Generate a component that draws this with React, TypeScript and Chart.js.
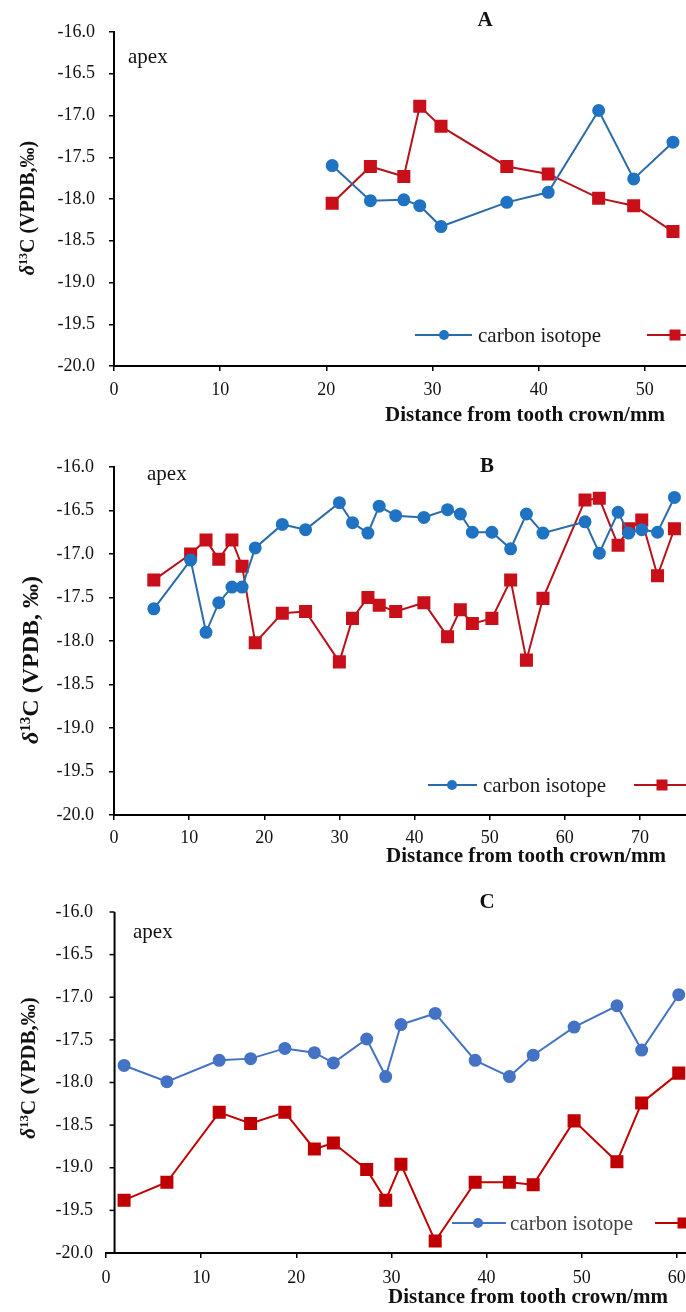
import React, { useEffect, useRef } from "react";
import { Chart, registerables } from "chart.js";

Chart.register(...registerables);

const FONT = '"Liberation Serif", "Times New Roman", serif';

// ---------- DATA ----------
// Panel A
const distA = [20.55, 24.15, 27.3, 28.8, 30.8, 37.0, 40.9, 45.65, 48.95, 52.65];
const carbonA = [-17.6, -18.02, -18.01, -18.08, -18.33, -18.04, -17.92, -16.94, -17.76, -17.32];
const otherA = [-18.05, -17.61, -17.73, -16.89, -17.13, -17.61, -17.7, -17.99, -18.08, -18.39];

// Panel B
const distB = [5.3, 10.2, 12.25, 13.95, 15.7, 17.05, 18.8, 22.4, 25.5, 30.0, 31.75, 33.8, 35.3, 37.5, 41.25, 44.4, 46.1, 47.7, 50.3, 52.8, 54.9, 57.1, 62.7, 64.6, 67.1, 68.5, 70.25, 72.35, 74.6];
const carbonB = [-17.63, -17.07, -17.9, -17.56, -17.38, -17.38, -16.93, -16.66, -16.72, -16.41, -16.64, -16.76, -16.45, -16.56, -16.58, -16.49, -16.54, -16.75, -16.75, -16.94, -16.54, -16.76, -16.63, -16.99, -16.52, -16.76, -16.72, -16.75, -16.35];
const otherB = [-17.3, -17.0, -16.84, -17.06, -16.84, -17.14, -18.02, -17.68, -17.66, -18.24, -17.74, -17.5, -17.59, -17.66, -17.56, -17.95, -17.64, -17.8, -17.74, -17.3, -18.22, -17.51, -16.38, -16.36, -16.9, -16.71, -16.61, -17.25, -16.71];

// Panel C
const distC = [1.9, 6.4, 11.9, 15.2, 18.8, 21.9, 23.9, 27.4, 29.4, 31.0, 34.6, 38.8, 42.4, 44.9, 49.2, 53.7, 56.3, 60.2];
const carbonC = [-17.8, -17.99, -17.74, -17.72, -17.6, -17.65, -17.77, -17.49, -17.93, -17.32, -17.19, -17.74, -17.93, -17.68, -17.35, -17.1, -17.62, -16.97];
const otherC = [-19.38, -19.17, -18.35, -18.48, -18.35, -18.78, -18.71, -19.02, -19.38, -18.96, -19.86, -19.17, -19.17, -19.2, -18.45, -18.93, -18.24, -17.89];

const seriesNames = ["carbon isotope", "oxygen isotope"];
const panelLetters = ["A", "B", "C"];
const yMin = -20;
const yMax = -16;
const yStep = 0.5;
const xStep = 10;

// ---------- STYLE / LAYOUT ----------
type Panel = {
  letter: string;
  xs: number[];
  c: number[];
  o: number[];
  top: number;
  height: number;
  width: number;
  xMax: number;
  padTop: number;
  xAxisH: number;
  yAxisW: number;
  xTickPad: number;
  yTickPad: number;
  yAxisAt: number | null;
  title: [number, number];
  apex: [number, number];
  xTitle: [number, number];
  yTitle: { x: number; y: number; size: number; rest: string };
  legend: { y: number; items: { l0: number; l1: number; m: number; t: number }[]; color: string };
  blueLine: string;
  blueFill: string;
  redLine: string;
  redFill: string;
};

const panels: Panel[] = [
  {
    letter: panelLetters[0], xs: distA, c: carbonA, o: otherA,
    top: 0, height: 440, width: 781, xMax: 60, padTop: 32, xAxisH: 74, yAxisW: 114,
    xTickPad: 8, yTickPad: 14, yAxisAt: null,
    title: [485, 21], apex: [128, 63], xTitle: [525, 416],
    yTitle: { x: 27, y: 208, size: 20, rest: "C (VPDB,\u2030)" },
    legend: { y: 335, color: "#1a1a1a", items: [{ l0: 415, l1: 472, m: 444, t: 478 }, { l0: 647, l1: 703, m: 675, t: 709 }] },
    blueLine: "#2b6ca8", blueFill: "#1f73c2", redLine: "#b5121b", redFill: "#c80f1a",
  },
  {
    letter: panelLetters[1], xs: distB, c: carbonB, o: otherB,
    top: 440, height: 440, width: 745, xMax: 80, padTop: 27, xAxisH: 65, yAxisW: 114,
    xTickPad: 7, yTickPad: 15, yAxisAt: null,
    title: [487, 27], apex: [147, 40], xTitle: [526, 417],
    yTitle: { x: 30, y: 220, size: 24, rest: "C (VPDB, \u2030)" },
    legend: { y: 345, color: "#1a1a1a", items: [{ l0: 428, l1: 477, m: 452, t: 483 }, { l0: 634, l1: 690, m: 662, t: 696 }] },
    blueLine: "#2b6ca8", blueFill: "#1f73c2", redLine: "#b5121b", redFill: "#c80f1a",
  },
  {
    letter: panelLetters[2], xs: distC, c: carbonC, o: otherC,
    top: 880, height: 432, width: 802, xMax: 70, padTop: 32, xAxisH: 59, yAxisW: 106,
    xTickPad: 9, yTickPad: 13, yAxisAt: 0.9,
    title: [487, 23], apex: [133, 58], xTitle: [528, 418],
    yTitle: { x: 28, y: 188, size: 21, rest: "C (VPDB,\u2030)" },
    legend: { y: 343, color: "#444444", items: [{ l0: 452, l1: 506, m: 478, t: 510 }, { l0: 655, l1: 711, m: 683, t: 717 }] },
    blueLine: "#4472c4", blueFill: "#4472c4", redLine: "#c00000", redFill: "#c00000",
  },
];

function drawYTitle(ctx: CanvasRenderingContext2D, p: Panel) {
  const { x, y, size, rest } = p.yTitle;
  const segs = [
    { text: "\u03b4", font: `italic bold ${size}px ${FONT}`, dy: 0 },
    { text: "13", font: `bold ${Math.round(size * 0.62)}px ${FONT}`, dy: -size * 0.36 },
    { text: rest, font: `bold ${size}px ${FONT}`, dy: 0 },
  ];
  ctx.save();
  ctx.translate(x, y);
  ctx.rotate(-Math.PI / 2);
  let total = 0;
  for (const s of segs) {
    ctx.font = s.font;
    total += ctx.measureText(s.text).width;
  }
  let cx = -total / 2;
  ctx.textAlign = "left";
  ctx.textBaseline = "alphabetic";
  ctx.fillStyle = "#111";
  const base = size * 0.34;
  for (const s of segs) {
    ctx.font = s.font;
    ctx.fillText(s.text, cx, base + s.dy);
    cx += ctx.measureText(s.text).width;
  }
  ctx.restore();
}

const decorPlugin = {
  id: "decor",
  afterDraw(chart: any, _args: any, opts: any) {
    const p: Panel = opts.panel;
    const ctx: CanvasRenderingContext2D = chart.ctx;
    const xs = chart.scales.x;
    const ys = chart.scales.y;
    const area = chart.chartArea;
    ctx.save();

    // custom vertical axis (panel C crosses at a non-zero value)
    if (p.yAxisAt !== null) {
      const ax = xs.getPixelForValue(p.yAxisAt);
      ctx.strokeStyle = "#000";
      ctx.lineWidth = 2;
      ctx.beginPath();
      ctx.moveTo(ax, area.top);
      ctx.lineTo(ax, area.bottom);
      ctx.stroke();
      ctx.lineWidth = 1.5;
      for (let v = yMin; v <= yMax + 1e-9; v += yStep) {
        const py = ys.getPixelForValue(v);
        ctx.beginPath();
        ctx.moveTo(ax - 5, py);
        ctx.lineTo(ax, py);
        ctx.stroke();
      }
    }

    ctx.fillStyle = "#111";
    // panel letter
    ctx.font = `bold 21px ${FONT}`;
    ctx.textAlign = "center";
    ctx.textBaseline = "middle";
    ctx.fillText(p.letter, p.title[0], p.title[1]);

    // apex
    ctx.font = `21px ${FONT}`;
    ctx.textAlign = "left";
    ctx.textBaseline = "alphabetic";
    ctx.fillText("apex", p.apex[0], p.apex[1]);

    // x title
    ctx.font = `bold 21px ${FONT}`;
    ctx.textAlign = "center";
    ctx.textBaseline = "middle";
    ctx.fillText("Distance from tooth crown/mm", p.xTitle[0], p.xTitle[1]);

    // y title
    drawYTitle(ctx, p);

    // legend
    const lg = p.legend;
    p.legend.items.forEach((it, i) => {
      const line = i === 0 ? p.blueLine : p.redLine;
      const fill = i === 0 ? p.blueFill : p.redFill;
      ctx.strokeStyle = line;
      ctx.lineWidth = 2;
      ctx.beginPath();
      ctx.moveTo(it.l0, lg.y);
      ctx.lineTo(it.l1, lg.y);
      ctx.stroke();
      ctx.fillStyle = fill;
      if (i === 0) {
        ctx.beginPath();
        ctx.arc(it.m, lg.y, 5, 0, Math.PI * 2);
        ctx.fill();
      } else {
        ctx.fillRect(it.m - 5.5, lg.y - 5.5, 11, 11);
      }
      ctx.fillStyle = lg.color;
      ctx.font = `21px ${FONT}`;
      ctx.textAlign = "left";
      ctx.textBaseline = "middle";
      ctx.fillText(seriesNames[i], it.t, lg.y + 1);
    });
    ctx.restore();
  },
};

function PanelChart({ p }: { p: Panel }) {
  const ref = useRef<HTMLCanvasElement>(null);
  useEffect(() => {
    if (!ref.current) return;
    const chart = new Chart(ref.current, {
      type: "scatter",
      data: {
        datasets: [
          {
            label: seriesNames[0],
            data: p.xs.map((x, i) => ({ x, y: p.c[i] })),
            showLine: true,
            borderColor: p.blueLine,
            backgroundColor: p.blueFill,
            pointBackgroundColor: p.blueFill,
            pointBorderColor: p.blueFill,
            pointStyle: "circle",
            pointRadius: 5.5,
            borderWidth: 2,
            tension: 0,
          },
          {
            label: seriesNames[1],
            data: p.xs.map((x, i) => ({ x, y: p.o[i] })),
            showLine: true,
            borderColor: p.redLine,
            backgroundColor: p.redFill,
            pointBackgroundColor: p.redFill,
            pointBorderColor: p.redFill,
            pointStyle: "rect",
            pointRadius: 7.8,
            borderWidth: 2,
            tension: 0,
          },
        ],
      },
      options: {
        responsive: false,
        animation: false,
        devicePixelRatio: 1,
        layout: { padding: { top: p.padTop, right: 30, bottom: 0, left: 0 } },
        plugins: {
          legend: { display: false },
          tooltip: { enabled: false },
          decor: { panel: p },
        } as any,
        scales: {
          x: {
            type: "linear",
            min: 0,
            max: p.xMax,
            afterFit: (s: any) => { s.height = p.xAxisH; },
            ticks: {
              stepSize: xStep,
              padding: p.xTickPad,
              color: "#111",
              font: { family: FONT, size: 18 },
              maxRotation: 0,
              callback: (v: any) => (Number(v) % xStep === 0 ? String(v) : ""),
            },
            grid: { drawOnChartArea: false, drawTicks: true, tickLength: 5, color: "#000", lineWidth: 1.5 },
            border: { display: true, color: "#000", width: 2 },
          },
          y: {
            type: "linear",
            min: yMin,
            max: yMax,
            afterFit: (s: any) => { s.width = p.yAxisW; },
            ticks: {
              stepSize: yStep,
              padding: p.yTickPad,
              color: "#111",
              font: { family: FONT, size: 18 },
              callback: (v: any) => Number(v).toFixed(1),
            },
            grid: p.yAxisAt === null
              ? { drawOnChartArea: false, drawTicks: true, tickLength: 5, color: "#000", lineWidth: 1.5 }
              : { display: false, drawTicks: false },
            border: { display: p.yAxisAt === null, color: "#000", width: 2 },
          },
        },
      },
      plugins: [decorPlugin as any],
    });
    return () => chart.destroy();
  }, [p]);
  return (
    <canvas
      ref={ref}
      width={p.width}
      height={p.height}
      style={{ position: "absolute", left: 0, top: p.top, width: p.width, height: p.height, display: "block" }}
    />
  );
}

export default function App() {
  return (
    <div
      style={{
        position: "fixed",
        left: 0,
        top: 0,
        width: 686,
        height: 1312,
        overflow: "hidden",
        background: "#ffffff",
      }}
    >
      {panels.map((p) => (
        <PanelChart key={p.letter} p={p} />
      ))}
    </div>
  );
}
